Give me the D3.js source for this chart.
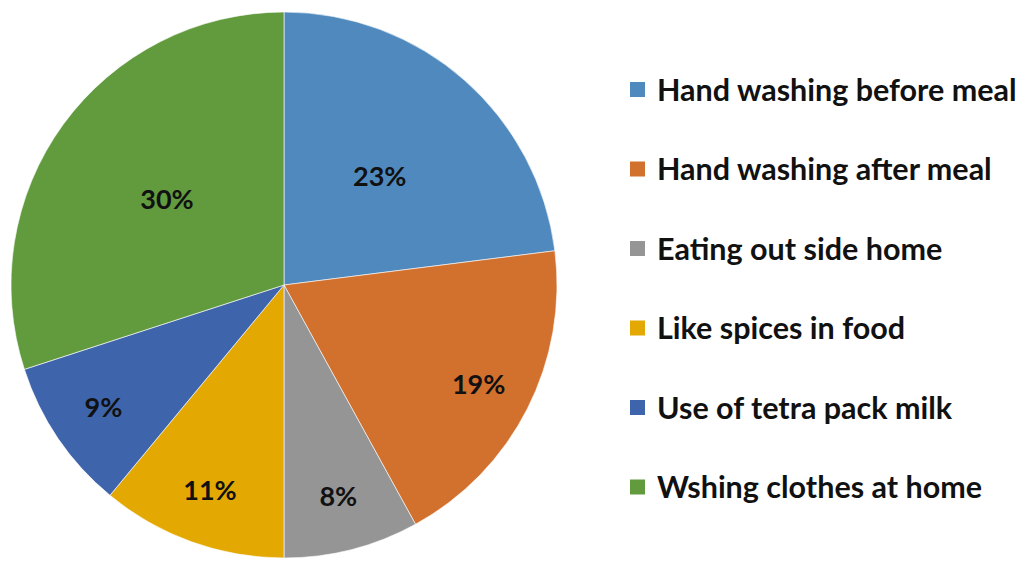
<!DOCTYPE html>
<html>
<head>
<meta charset="utf-8">
<script src="https://cdn.jsdelivr.net/npm/d3@7"></script>
<style>
  body { margin: 0; background: #fff; }
  text { font-family: Lato, "Open Sans", sans-serif; font-weight: bold; }
</style>
</head>
<body>
<div id="canvas"></div>
<script>
// chart data
var categories = ["Hand washing before meal", "Hand washing after meal", "Eating out side home",
                  "Like spices in food", "Use of tetra pack milk", "Wshing clothes at home"];
var values = [23, 19, 8, 11, 9, 30];
var colors = ["#4f89bd", "#d2702e", "#959595", "#e3a902", "#3e64ab", "#619b3e"];

var width = 1024;
var height = 561;

var svg = d3.select("#canvas")
  .append("svg")
  .attr("width", width)
  .attr("height", height);

var cx = 284, cy = 285, radius = 273;

var pie = d3.pie().sort(null).value(d => d);
var arcs = pie(values);

var arc = d3.arc().innerRadius(0).outerRadius(radius);

var g = svg.append("g").attr("transform", "translate(" + cx + "," + cy + ")");

g.selectAll("path")
  .data(arcs)
  .enter()
  .append("path")
  .attr("d", arc)
  .attr("fill", (d, i) => colors[i])
  .style("stroke", "#fff")
  .style("stroke-width", 0.6);

// labels: big slices sit closer to the centre, small ones further out
g.selectAll("text.lbl")
  .data(arcs)
  .enter()
  .append("text")
  .attr("class", "lbl")
  .attr("transform", d => {
    var r = d.data >= 20 ? radius * 0.53 : radius * 0.8;
    var la = d3.arc().innerRadius(r).outerRadius(r);
    return "translate(" + la.centroid(d) + ")";
  })
  .attr("text-anchor", "middle")
  .attr("dy", "0.35em")
  .style("font-size", "27px")
  .style("fill", "#111")
  .text(d => d.data + "%");

// legend
var legend = svg.append("g").attr("transform", "translate(630,90)");
var rowH = 79.5;

var rows = legend.selectAll("g")
  .data(categories)
  .enter()
  .append("g")
  .attr("transform", (d, i) => "translate(0," + i * rowH + ")");

rows.append("rect")
  .attr("x", 0)
  .attr("y", -8)
  .attr("width", 15)
  .attr("height", 15)
  .attr("fill", (d, i) => colors[i]);

rows.append("text")
  .attr("x", 27)
  .attr("dy", "0.35em")
  .style("font-size", "30.5px")
  .style("fill", "#111")
  .text(d => d);
</script>
</body>
</html>
